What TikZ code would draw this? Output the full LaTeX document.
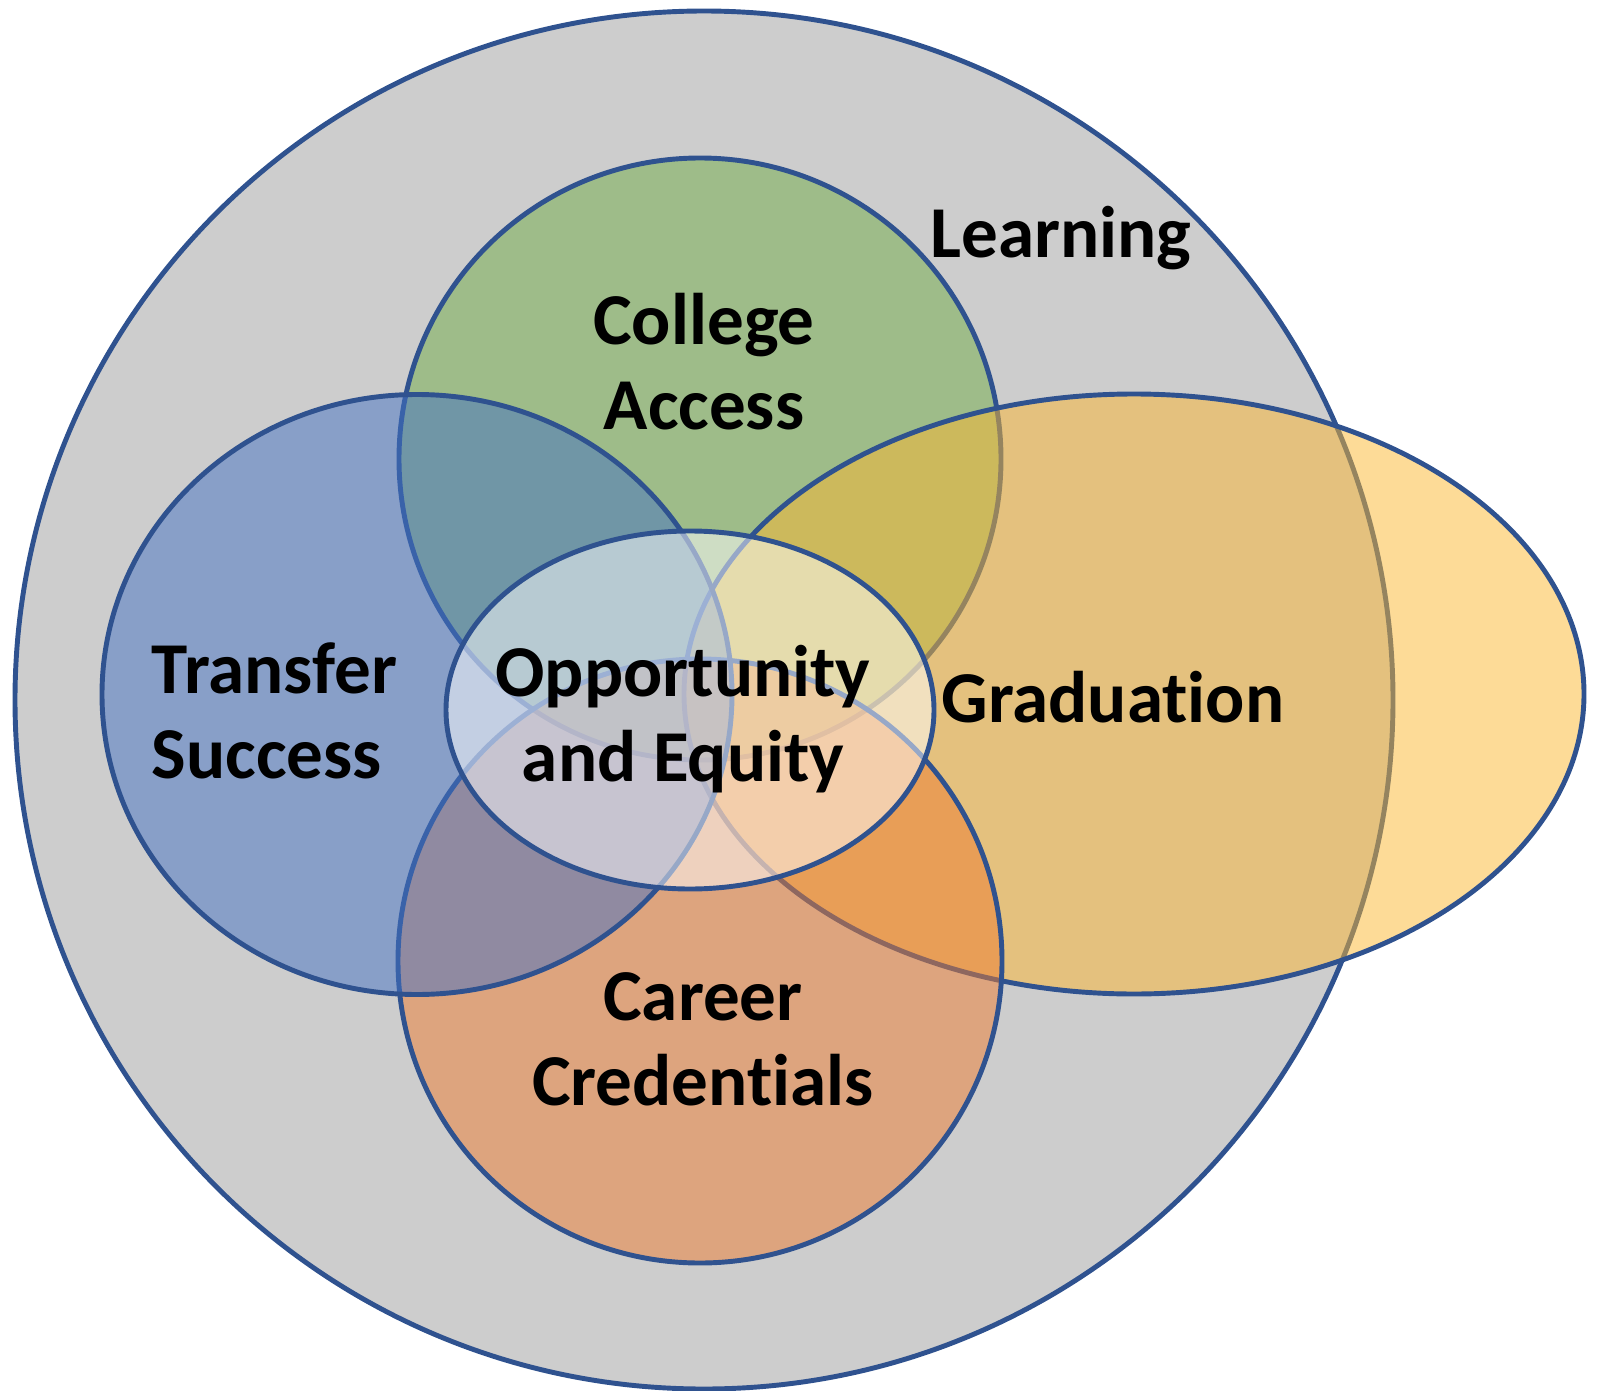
\documentclass[tikz,border=0pt]{standalone}
\usepackage{fontspec}
\setmainfont{Carlito}[Ligatures={NoCommon}]
\usepackage{tikz}
\usetikzlibrary{positioning}

\definecolor{setline}{RGB}{47,82,143}
\definecolor{setgray}{RGB}{205,205,205}
\definecolor{setgreen}{RGB}{112,173,71}
\definecolor{setblue}{RGB}{68,114,196}
\definecolor{setorange}{RGB}{237,125,49}
\definecolor{setyellow}{RGB}{251,183,48}

\tikzset {
    style Outer/.style={
        fill=setgray,
        draw=setline,
        line width=1.4pt,
    },
    style Goal/.style={
        fill opacity=0.5,
        draw=setline,
        line width=1.4pt,
    },
    style Label/.style={
        font=\fontsize{20.8}{24.2}\selectfont\bfseries,
        align=center,
        inner sep=0pt,
    },
}

\begin{document}
\begin{tikzpicture}
    \useasboundingbox (0,0) rectangle (15.99,13.90);

    \path[style Outer] (7.04,6.90) circle (6.89);
    \path[style Goal, fill=setgreen] (7.00,9.31) circle (3.01);
    \path[style Goal, fill=setyellow] (11.34,6.96) ellipse (4.50 and 3.00);
    \path[style Goal, fill=setorange] (7.00,4.29) circle (3.02);
    \path[style Goal, fill=setblue] (4.17,6.955) ellipse (3.15 and 3.00);
    \path[style Goal, fill=white] (6.90,6.80) ellipse (2.44 and 1.79);

    \node[style Label, anchor=base] at (10.61,11.33) (learning) {Learning};
    \node[style Label] at (7.04,10.28) (access) {College\\Access};
    \node[style Label, anchor=west, align=left] at (1.51,6.79) (transfer) {Transfer\\Success};
    \node[style Label] at (6.83,6.71) (equity) {Opportunity\\and Equity};
    \node[style Label, anchor=base] at (11.13,6.68) (graduation) {Graduation};
    \node[style Label] at (7.03,3.51) (career) {Career\\Credentials};
\end{tikzpicture}
\end{document}
